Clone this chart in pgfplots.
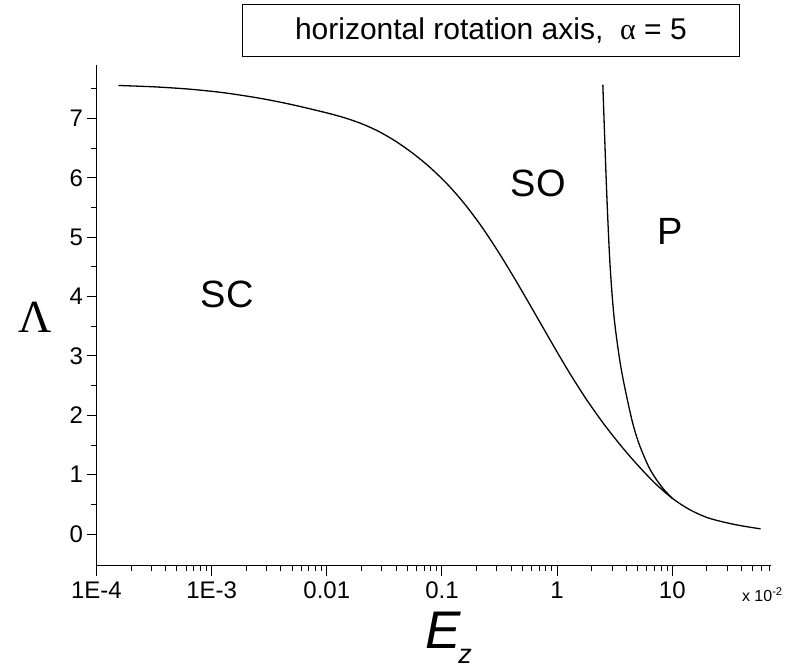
\documentclass[border=0pt]{standalone}
\usepackage{pgfplots}
\pgfplotsset{compat=1.18}
\usepackage{fontspec}
\setmainfont{Liberation Sans}
\newfontfamily\serif{Liberation Serif}
\begin{document}
\begin{tikzpicture}
\path[use as bounding box] (-96.5pt,-106pt) rectangle (709.7pt,565.7pt);
\begin{axis}[
  at={(0pt,0pt)}, anchor=south west,
  scale only axis, width=674.4pt, height=500.7pt,
  xmode=log, xmin=1e-4, xmax=71.5,
  ymin=-0.53, ymax=7.9,
  axis x line*=bottom, axis y line*=left,
  axis line style={line width=1pt},
  tick align=outside,
  major tick length=10pt, minor tick length=5.5pt,
  every tick/.style={black, line width=1pt},
  xtick={1e-4,1e-3,1e-2,1e-1,1,10},
  xticklabels={1E-4,1E-3,0.01,0.1,1,10},
  minor xtick={2e-4,3e-4,4e-4,5e-4,6e-4,7e-4,8e-4,9e-4,
               2e-3,3e-3,4e-3,5e-3,6e-3,7e-3,8e-3,9e-3,
               2e-2,3e-2,4e-2,5e-2,6e-2,7e-2,8e-2,9e-2,
               0.2,0.3,0.4,0.5,0.6,0.7,0.8,0.9,
               2,3,4,5,6,7,8,9,20,30,40,50,60,70},
  ytick={0,1,2,3,4,5,6,7},
  minor ytick={0.5,1.5,2.5,3.5,4.5,5.5,6.5,7.5},
  tick label style={font=\fontsize{24}{28}\selectfont},
  xticklabel style={yshift=-3pt},
  /pgf/number format/assume math mode=true,
  xlabel={\fontsize{53}{60}\selectfont\itshape E\kern-2pt\raisebox{-15pt}{\fontsize{27}{30}\selectfont\itshape z}},
  xlabel style={at={(axis description cs:0.4871,-0.1658)}, anchor=base west, inner sep=0pt},
  ylabel={\fontsize{46}{52}\selectfont\serif Λ},
  ylabel style={rotate=-90, at={(axis description cs:-0.0905,0.495)}, anchor=center, inner sep=0pt},
  clip=false,
]
% SC/SO boundary
\addplot[black, line width=1.3pt, smooth, tension=0.5] coordinates {
 (1.549e-4,7.555) (3.162e-4,7.532) (6.310e-4,7.494) (1.259e-3,7.434) (2.630e-3,7.339)
 (5.012e-3,7.231) (0.01,7.093) (0.01413,7.013) (0.01995,6.913) (0.02818,6.782)
 (0.03981,6.613) (0.05623,6.408) (0.07852,6.177) (0.1122,5.886) (0.1585,5.552)
 (0.2239,5.162) (0.3162,4.720) (0.4467,4.240) (0.6310,3.739) (0.8913,3.232)
 (1.259,2.738) (1.778,2.281) (2.512,1.868) (3.548,1.497) (5.012,1.160)
 (7.079,0.856) (10,0.602) (14.13,0.412) (19.95,0.28) (28.18,0.20)
 (39.81,0.14) (58.34,0.088)
};
% SO/P boundary
\addplot[black, line width=1.3pt, smooth, tension=0.5] coordinates {
 (2.493,7.567) (2.647,6.136) (2.755,5.295) (2.896,4.453) (3.137,3.611)
 (3.608,2.769) (4.450,1.928) (5.170,1.507) (6.252,1.13) (7.262,0.92)
 (8.5,0.745) (10,0.602)
};
\node[font=\fontsize{38}{44}\selectfont] at (axis cs:1.37e-3,4.03) {SC};
\node[font=\fontsize{38}{44}\selectfont] at (axis cs:0.684,5.91) {SO};
\node[font=\fontsize{38}{44}\selectfont] at (axis cs:9.5,5.10) {P};
\end{axis}
\node[draw, line width=0.8pt, minimum width=498pt, minimum height=52pt, inner sep=0pt,
      font=\fontsize{30}{35}\selectfont] at (394.5pt,535pt)
  {horizontal rotation axis,\ \ {\serif α} = 5};
\node[anchor=base west, inner sep=0pt, font=\fontsize{16}{18}\selectfont] at (645.5pt,-36pt)
  {x 10\textsuperscript{-2}};
\end{tikzpicture}
\end{document}
